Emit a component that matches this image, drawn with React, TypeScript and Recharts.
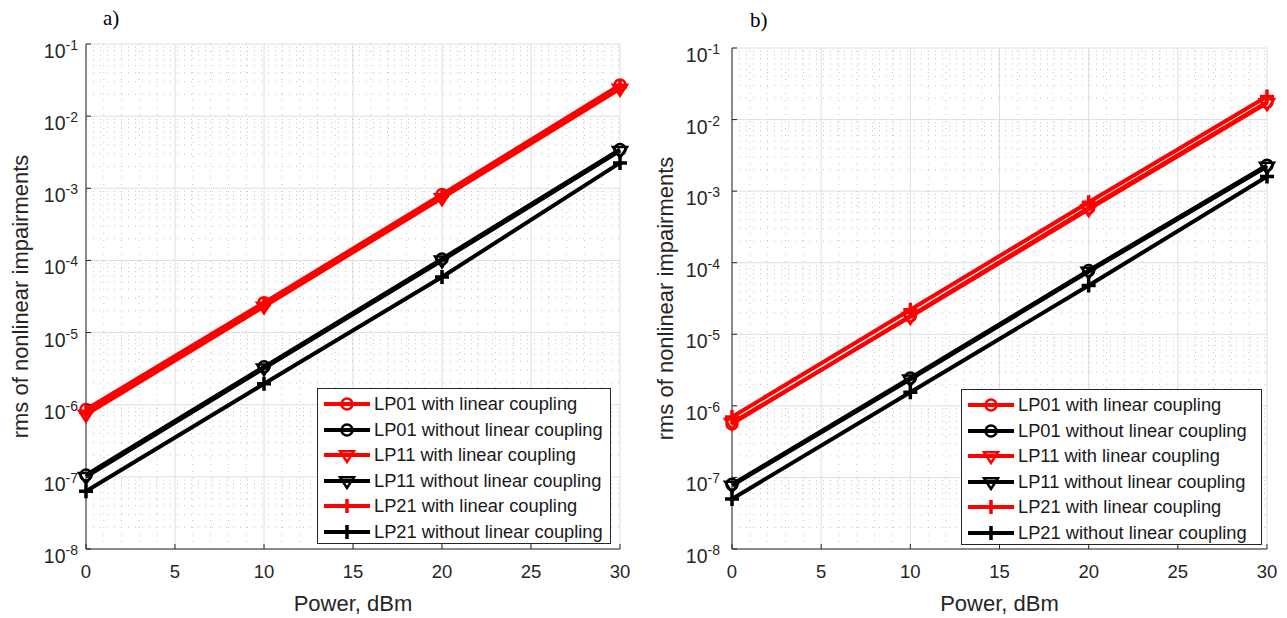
import {
  LineChart,
  Line,
  XAxis,
  YAxis,
  CartesianGrid,
  ReferenceLine,
  Legend
} from 'recharts';

// ==========================================
// DATA
// ==========================================

const powerDbm = [0, 10, 20, 30];

// panel a)
const lp01WithA = [8.6e-7, 2.6e-5, 8.2e-4, 2.7e-2];
const lp01WithoutA = [1.06e-7, 3.35e-6, 1.05e-4, 3.45e-3];
const lp11WithA = [7.3e-7, 2.3e-5, 7.3e-4, 2.4e-2];
const lp11WithoutA = [1.0e-7, 3.2e-6, 1.0e-4, 3.3e-3];
const lp21WithA = [7.9e-7, 2.45e-5, 7.8e-4, 2.55e-2];
const lp21WithoutA = [6.3e-8, 1.95e-6, 5.9e-5, 2.25e-3];

// panel b)
const lp01WithB = [5.6e-7, 1.8e-5, 5.8e-4, 1.75e-2];
const lp01WithoutB = [8.0e-8, 2.45e-6, 7.8e-5, 2.3e-3];
const lp11WithB = [5.8e-7, 1.75e-5, 5.6e-4, 1.7e-2];
const lp11WithoutB = [7.7e-8, 2.35e-6, 7.5e-5, 2.2e-3];
const lp21WithB = [7.0e-7, 2.2e-5, 7.0e-4, 2.1e-2];
const lp21WithoutB = [5.0e-8, 1.55e-6, 4.8e-5, 1.6e-3];

const xTicks = [0, 5, 10, 15, 20, 25, 30];
const yTicks = [1e-8, 1e-7, 1e-6, 1e-5, 1e-4, 1e-3, 1e-2, 1e-1];

const seriesNames = [
  'LP01 with linear coupling',
  'LP01 without linear coupling',
  'LP11 with linear coupling',
  'LP11 without linear coupling',
  'LP21 with linear coupling',
  'LP21 without linear coupling'
];

const seriesKeys = ['lp01With', 'lp01Without', 'lp11With', 'lp11Without', 'lp21With', 'lp21Without'];

// ==========================================
// STYLE
// ==========================================

const FONT = '"Liberation Sans", Arial, Helvetica, sans-serif';
const AXIS = '#262626';
const RED = '#ff0000';
const BLACK = '#000000';

const seriesStyle: Record<string, { color: string; marker: string }> = {
  lp01With: { color: RED, marker: 'circle' },
  lp01Without: { color: BLACK, marker: 'circle' },
  lp11With: { color: RED, marker: 'triangle' },
  lp11Without: { color: BLACK, marker: 'triangle' },
  lp21With: { color: RED, marker: 'plus' },
  lp21Without: { color: BLACK, marker: 'plus' }
};

// minor grid positions (2..9 x 10^n, and every 1 dBm)
const minorY: number[] = [];
for (let e = -8; e <= -2; e++) {
  for (let k = 2; k <= 9; k++) minorY.push(k * Math.pow(10, e));
}
const minorX: number[] = [];
for (let v = 1; v < 30; v++) if (v % 5 !== 0) minorX.push(v);

function buildRows(cols: number[][]) {
  return powerDbm.map((p, i) => {
    const row: any = { power: p };
    seriesKeys.forEach((k, j) => { row[k] = cols[j][i]; });
    return row;
  });
}

const rowsA = buildRows([lp01WithA, lp01WithoutA, lp11WithA, lp11WithoutA, lp21WithA, lp21WithoutA]);
const rowsB = buildRows([lp01WithB, lp01WithoutB, lp11WithB, lp11WithoutB, lp21WithB, lp21WithoutB]);

// ==========================================
// MARKERS
// ==========================================

function Marker({ kind, cx, cy, color }: { kind: string; cx: number; cy: number; color: string }) {
  if (kind === 'circle') {
    return <circle cx={cx} cy={cy} r={5.5} fill="none" stroke={color} strokeWidth={2.5} />;
  }
  if (kind === 'triangle') {
    const s = 7;
    return (
      <polygon
        points={`${cx - s},${cy - s * 0.55} ${cx + s},${cy - s * 0.55} ${cx},${cy + s}`}
        fill="none"
        stroke={color}
        strokeWidth={2.5}
      />
    );
  }
  return (
    <path
      d={`M${cx - 7},${cy}H${cx + 7}M${cx},${cy - 7}V${cy + 7}`}
      stroke={color}
      strokeWidth={3.5}
      fill="none"
    />
  );
}

// ==========================================
// TICKS
// ==========================================

const XTickBottom = (props: any) => {
  const { x, y, payload } = props;
  return (
    <g>
      <line x1={x} y1={y} x2={x} y2={y - 5} stroke={AXIS} />
      <text x={x} y={y + 29} textAnchor="middle" fontSize={18.5} fill={AXIS} fontFamily={FONT}>
        {payload.value}
      </text>
    </g>
  );
};

const XTickTop = (props: any) => {
  const { x, y } = props;
  return <line x1={x} y1={y} x2={x} y2={y + 5} stroke={AXIS} />;
};

const YTickRight = (props: any) => {
  const { x, y } = props;
  return <line x1={x} y1={y} x2={x - 5} y2={y} stroke={AXIS} />;
};

const makeYTickLeft = (gap: number) => (props: any) => {
  const { x, y, payload } = props;
  const exp = Math.round(Math.log10(payload.value));
  return (
    <g>
      <line x1={x} y1={y} x2={x + 5} y2={y} stroke={AXIS} />
      <text x={x - gap} y={y + 14} textAnchor="end" fontSize={19.5} fill={AXIS} fontFamily={FONT}>
        10
        <tspan dy={-8} fontSize={14}>{`-${Math.abs(exp)}`}</tspan>
      </text>
    </g>
  );
};

// ==========================================
// LEGEND
// ==========================================

const makeLegend = (boxWidth: number) => (props: any) => {
  const payload = props.payload || [];
  return (
    <div
      style={{
        position: 'relative',
        width: boxWidth,
        height: 156,
        border: `1px solid ${AXIS}`,
        background: '#fff',
        boxSizing: 'border-box',
        fontFamily: FONT
      }}
    >
      {payload.map((entry: any, i: number) => {
        const st = seriesStyle[entry.dataKey];
        return (
          <div
            key={entry.dataKey}
            style={{
              position: 'absolute',
              left: 0,
              top: 15 + i * 25.5 - 13,
              height: 26,
              width: boxWidth,
              display: 'flex',
              alignItems: 'center'
            }}
          >
            <svg width={56} height={26} style={{ flex: 'none' }}>
              <line x1={6} y1={13} x2={52} y2={13} stroke={st.color} strokeWidth={4} />
              <Marker kind={st.marker} cx={29} cy={13} color={st.color} />
            </svg>
            <span style={{ fontSize: 18.3, color: '#1a1a1a', whiteSpace: 'nowrap', lineHeight: '26px' }}>
              {entry.value}
            </span>
          </div>
        );
      })}
    </div>
  );
};

// ==========================================
// PANEL
// ==========================================

type PanelProps = {
  rows: any[];
  left: number;
  width: number;
  top: number;
  yAxisWidth: number;
  tickGap: number;
  yLabelX: number;
  legendLeft: number;
  legendTop: number;
  legendWidth: number;
  title: string;
  titleX: number;
  titleTop: number;
};

function Panel(p: PanelProps) {
  const plotBottom = 549;
  const height = 618;
  return (
    <div style={{ position: 'absolute', left: p.left, top: 0, width: p.width, height }}>
      <div
        style={{
          position: 'absolute',
          left: p.titleX,
          top: p.titleTop,
          fontFamily: '"Liberation Serif", "Times New Roman", serif',
          fontSize: 21,
          lineHeight: 1,
          color: '#000'
        }}
      >
        {p.title}
      </div>

      <LineChart
        width={p.width}
        height={height}
        data={p.rows}
        margin={{ top: p.top, right: 20, bottom: height - plotBottom - 30, left: 0 }}
      >
        <CartesianGrid stroke="#dedede" strokeWidth={1} />

        {minorY.map((v) => (
          <ReferenceLine key={`my-${v}`} y={v} stroke="#c4c4c4" strokeDasharray="1 6" strokeWidth={1} />
        ))}
        {minorX.map((v) => (
          <ReferenceLine key={`mx-${v}`} x={v} stroke="#c4c4c4" strokeDasharray="1 6" strokeWidth={1} />
        ))}

        <XAxis
          dataKey="power"
          type="number"
          domain={[0, 30]}
          ticks={xTicks}
          interval={0}
          height={30}
          tickLine={false}
          tickSize={0}
          tickMargin={0}
          axisLine={{ stroke: AXIS }}
          tick={<XTickBottom />}
          label={{
            content: (lp: any) => {
              const vb = lp.viewBox;
              return (
                <text
                  x={vb.x + vb.width / 2}
                  y={vb.y + 62}
                  textAnchor="middle"
                  fontSize={22}
                  fill={AXIS}
                  fontFamily={FONT}
                >
                  Power, dBm
                </text>
              );
            }
          }}
        />
        <XAxis
          xAxisId="top"
          orientation="top"
          type="number"
          domain={[0, 30]}
          ticks={xTicks}
          interval={0}
          height={0}
          tickLine={false}
          tickSize={0}
          tickMargin={0}
          axisLine={{ stroke: AXIS }}
          tick={<XTickTop />}
        />
        <YAxis
          scale="log"
          type="number"
          domain={[1e-8, 1e-1]}
          allowDataOverflow
          ticks={yTicks}
          interval={0}
          width={p.yAxisWidth}
          tickLine={false}
          tickSize={0}
          tickMargin={0}
          axisLine={{ stroke: AXIS }}
          tick={makeYTickLeft(p.tickGap)}
          label={{
            content: (lp: any) => {
              const vb = lp.viewBox;
              const cy = vb.y + vb.height / 2;
              return (
                <text
                  x={p.yLabelX}
                  y={cy}
                  transform={`rotate(-90 ${p.yLabelX} ${cy})`}
                  textAnchor="middle"
                  fontSize={22}
                  fill={AXIS}
                  fontFamily={FONT}
                >
                  rms of nonlinear impairments
                </text>
              );
            }
          }}
        />
        <YAxis
          yAxisId="right"
          orientation="right"
          scale="log"
          type="number"
          domain={[1e-8, 1e-1]}
          allowDataOverflow
          ticks={yTicks}
          interval={0}
          width={0}
          tickLine={false}
          tickSize={0}
          tickMargin={0}
          axisLine={{ stroke: AXIS }}
          tick={<YTickRight />}
        />

        {seriesKeys.map((k, j) => {
          const st = seriesStyle[k];
          return (
            <Line
              key={k}
              dataKey={k}
              name={seriesNames[j]}
              type="linear"
              stroke={st.color}
              strokeWidth={4}
              isAnimationActive={false}
              activeDot={false}
              dot={(dp: any) => (
                <Marker key={`${k}-${dp.index}`} kind={st.marker} cx={dp.cx} cy={dp.cy} color={st.color} />
              )}
            />
          );
        })}

        <Legend
          layout="vertical"
          align="center"
          verticalAlign="middle"
          content={makeLegend(p.legendWidth)}
          wrapperStyle={{ left: p.legendLeft, top: p.legendTop, width: p.legendWidth, height: 156 }}
        />
      </LineChart>
    </div>
  );
}

// ==========================================
// APP
// ==========================================

export default function App() {
  return (
    <div
      style={{
        position: 'absolute',
        left: 0,
        top: 0,
        width: 1287,
        height: 618,
        background: '#fff',
        overflow: 'hidden'
      }}
    >
      <Panel
        rows={rowsA}
        left={0}
        width={640}
        top={44}
        yAxisWidth={86}
        tickGap={8}
        yLabelX={28}
        legendLeft={317}
        legendTop={388}
        legendWidth={294}
        title="a)"
        titleX={103}
        titleTop={8}
      />
      <Panel
        rows={rowsB}
        left={640}
        width={647}
        top={48}
        yAxisWidth={92}
        tickGap={12}
        yLabelX={33}
        legendLeft={321}
        legendTop={389}
        legendWidth={301}
        title="b)"
        titleX={110}
        titleTop={10}
      />
    </div>
  );
}
